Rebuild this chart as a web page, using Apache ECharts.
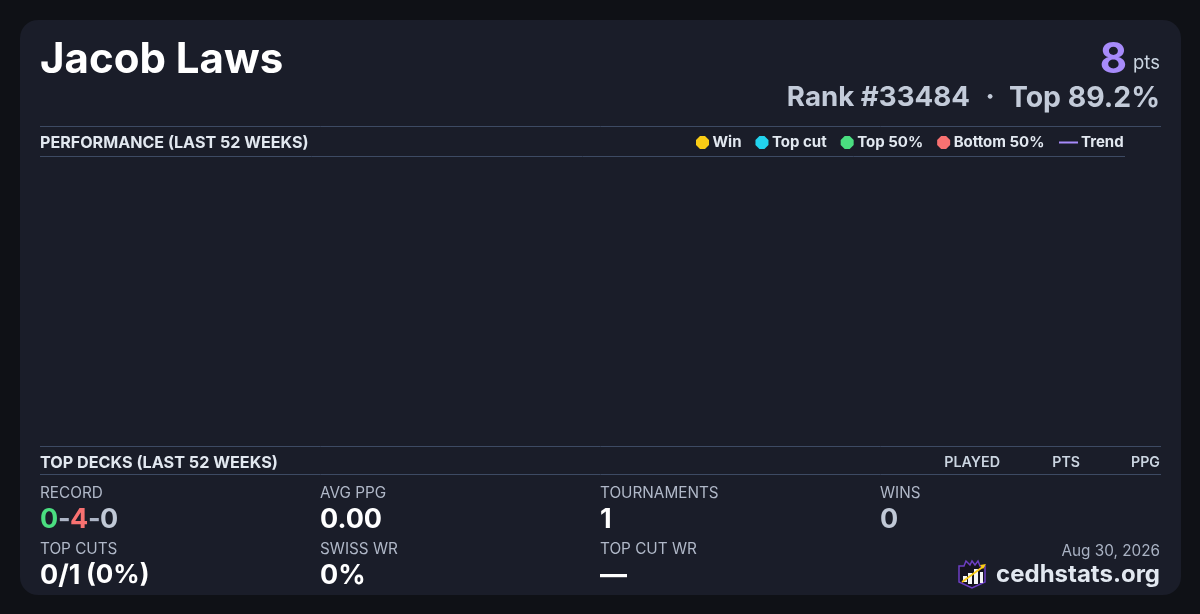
<!DOCTYPE html>
<html><head><meta charset="utf-8">
<style>html,body{margin:0;padding:0;background:#0f1116}#c{width:1200px;height:614px}</style>
<script src="https://cdn.jsdelivr.net/npm/echarts@6/dist/echarts.min.js"></script>
</head><body><div id="c"></div>
<script>
const playerName = 'Jacob Laws';
const points = '8';
const rankText = 'Rank #33484';
const topText = 'Top 89.2%';
const perfTitle = 'PERFORMANCE (LAST 52 WEEKS)';
const decksTitle = 'TOP DECKS (LAST 52 WEEKS)';
const deckColumns = ['PLAYED', 'PTS', 'PPG'];
const weeks = [];
const winValues = [];
const topCutValues = [];
const top50Values = [];
const bottom50Values = [];
const trendValues = [];
const statsRow1 = [['RECORD', null], ['AVG PPG', '0.00'], ['TOURNAMENTS', '1'], ['WINS', '0']];
const statsRow2 = [['TOP CUTS', '0/1'], ['SWISS WR', '0%'], ['TOP CUT WR', '—']];
const topCutPct = '(0%)';
const recordParts = ['0', '-', '4', '-', '0'];
const dateText = 'Aug 30, 2026';
const brandText = 'cedhstats.org';

const F = 'Inter, "Noto Sans", sans-serif';
const chart = echarts.init(document.getElementById('c'), null, {renderer:'canvas'});
const T = (x,y,text,size,weight,fill,align) => ({type:'text',x,y,silent:true,style:{text,font:`${weight} ${size}px ${F}`,fill,align:align||'left',verticalAlign:'middle'}});
const L = (x1,x2,y) => ({type:'line',silent:true,shape:{x1,y1:y+.5,x2,y2:y+.5},style:{stroke:'#3d4a63',lineWidth:1}});
const els = [
  {type:'rect',silent:true,shape:{x:20,y:20,width:1161,height:575,r:18},style:{fill:'#1a1d29'}},
  T(40,60,playerName,42,700,'#ffffff'),
  T(1127,60,points,42,700,'#a78bfa','right'),
  T(1160,63,'pts',18.5,400,'#cbd5e1','right'),
  T(970,98,rankText,27.7,700,'#c3cbd9','right'),
  T(990,98,'·',27.7,700,'#c3cbd9','center'),
  T(1160,98,topText,28.4,700,'#c3cbd9','right'),
  L(40,1161,126), L(40,1125,156), L(40,1161,446), L(40,1161,474),
  T(40,143,perfTitle,16.1,700,'#e2e8f0'),
  T(40,463,decksTitle,16.2,700,'#e2e8f0'),
  T(1000,463,deckColumns[0],14.3,600,'#cbd5e1','right'),
  T(1080,463,deckColumns[1],14.2,600,'#cbd5e1','right'),
  T(1160,463,deckColumns[2],14.2,600,'#cbd5e1','right'),
  T(1160,551,dateText,15.3,400,'#a9b2c3','right'),
  T(1160,575,brandText,24,700,'#e2e8f0','right')
];
const colX = [40,320,600,880];
statsRow1.forEach((s,i)=>{
  els.push(T(colX[i],493,s[0],15.3,400,'#b0b8c8'));
  if(s[1]!==null) els.push(T(colX[i],519.5,s[1],27,700,i===3?'#c0c8d6':'#ffffff'));
});
statsRow2.forEach((s,i)=>{
  els.push(T(colX[i],549,s[0],15.3,400,'#b0b8c8'));
  els.push(T(colX[i],575.5,s[1],27,700,'#ffffff'));
});
els.push(T(86,575.5,topCutPct,26,700,'#ffffff'));
const recCol=['#4ade80','#adb5c6','#f87171','#adb5c6','#c0c8d6'], recX=[40,58,70,88,100];
recordParts.forEach((p,i)=>els.push(T(recX[i],519.5,p,27,700,recCol[i])));
// logo
els.push({type:'polygon',silent:true,shape:{points:[[959,566],[964,566],[966,561],[970,565],[972,561],[975,565],[978,561],[980,566],[985,566],[985,582],[972,588],[959,582]]},style:{fill:'#15131f',stroke:'#6d3fc4',lineWidth:1.5}});
[[963,576,4,6],[968,573,4,11],[974,569,4,15],[980,572,3,11]].forEach(b=>els.push({type:'rect',silent:true,shape:{x:b[0],y:b[1],width:b[2],height:b[3]},style:{fill:'#f4f4f5'}}));
els.push({type:'line',silent:true,shape:{x1:962,y1:582,x2:984,y2:566},style:{stroke:'#facc15',lineWidth:1.8}});
els.push({type:'polygon',silent:true,shape:{points:[[986,564],[980,565],[983,569]]},style:{fill:'#facc15'}});

const legendText = {color:'#e2e8f0',fontFamily:F,fontSize:15,fontWeight:700};
const octagon = 'path://M4 0H9L13 4V9L9 13H4L0 9V4Z';
chart.setOption({
  animation:false,
  backgroundColor:'#0f1116',
  graphic:{elements:els},
  legend:[
    {left:696,top:135,itemWidth:13,itemHeight:13,itemGap:14,icon:octagon,textStyle:{...legendText,padding:[0,0,0,-1.5]},selectedMode:false,padding:0,
     data:['Win','Top cut','Top 50%','Bottom 50%']},
    {left:1059,top:135,itemWidth:19,itemHeight:2,itemGap:0,icon:'rect',textStyle:{...legendText,padding:[0,0,0,-2]},selectedMode:false,padding:0,data:['Trend']}
  ],
  grid:{left:40,right:75,top:160,bottom:170},
  xAxis:{type:'category',data:weeks,show:false},
  yAxis:{type:'value',show:false},
  series:[
    {name:'Win',type:'scatter',data:winValues,itemStyle:{color:'#facc15',opacity:1}},
    {name:'Top cut',type:'scatter',data:topCutValues,itemStyle:{color:'#22d3ee',opacity:1}},
    {name:'Top 50%',type:'scatter',data:top50Values,itemStyle:{color:'#4ade80',opacity:1}},
    {name:'Bottom 50%',type:'scatter',data:bottom50Values,itemStyle:{color:'#f87171',opacity:1}},
    {name:'Trend',type:'line',data:trendValues,itemStyle:{color:'#a78bfa'},lineStyle:{color:'#a78bfa'}}
  ]
});
</script></body></html>
